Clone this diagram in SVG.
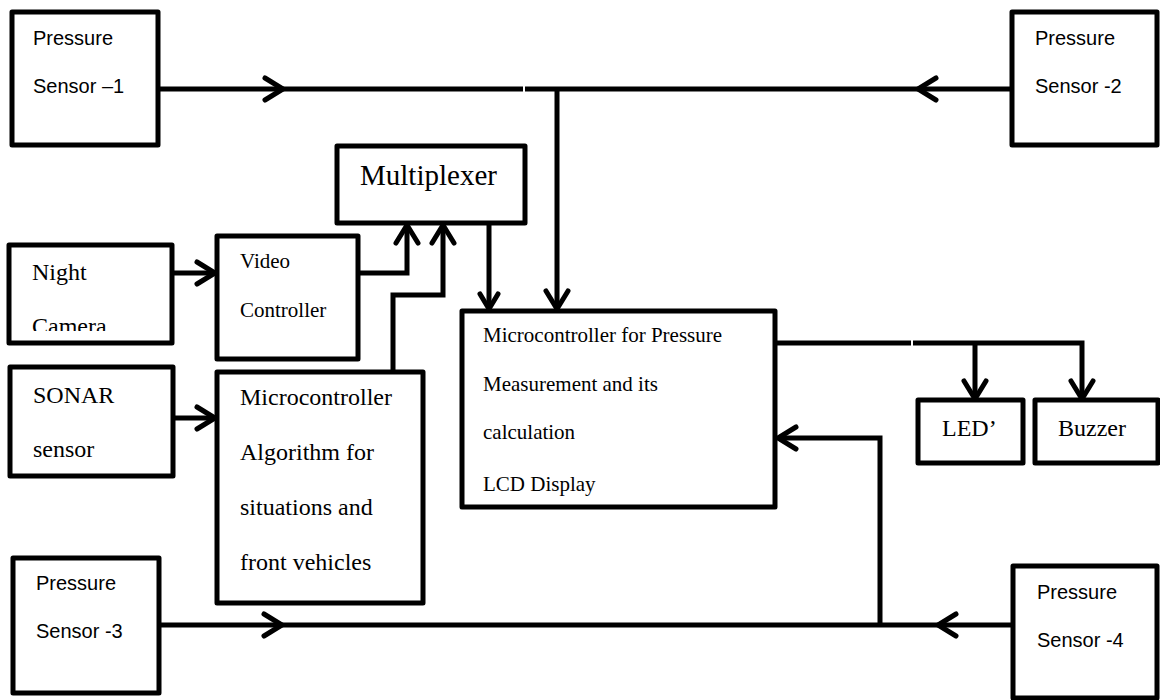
<svg xmlns="http://www.w3.org/2000/svg" width="1160" height="700" viewBox="0 0 1160 700">
<style>
.box{fill:#fff;stroke:#000;stroke-width:5;stroke-linejoin:round}
.ln{fill:none;stroke:#000;stroke-width:5}
.ah{fill:none;stroke:#000;stroke-width:5;stroke-linecap:round;stroke-linejoin:miter}
.sans{font-family:"Liberation Sans",Arial,sans-serif;font-size:20px;fill:#000}
.serif{font-family:"Liberation Serif","Times New Roman",serif;fill:#000}
</style>
<defs>
<clipPath id="camclip"><rect x="10" y="240" width="160" height="91"/></clipPath>
</defs>
<rect width="1160" height="700" fill="#fff"/>
<g id="connectors">
<path class="ln" d="M158 89 H523 M525 89 H1012"/>
<path class="ah" d="M265 78 L283 89 L265 100"/>
<path class="ah" d="M936 78 L918 89 L936 100"/>
<path class="ln" d="M557 89 V309"/>
<path class="ah" d="M546 291 L557 309 L568 291"/>
<path class="ln" d="M489 223 V309"/>
<path class="ah" d="M480 294 L489 309 L498 294"/>
<path class="ln" d="M172 273 H215"/>
<path class="ah" d="M197 262 L215 273 L197 284"/>
<path class="ln" d="M172 418 H215"/>
<path class="ah" d="M197 407 L215 418 L197 429"/>
<path class="ln" d="M358 273 H407 V225"/>
<path class="ah" d="M396 243 L407 225 L418 243"/>
<path class="ln" d="M393 370 V295 H443 V225"/>
<path class="ah" d="M432 243 L443 225 L454 243"/>
<path class="ln" d="M775 343 H911 M913 343 H1082 V398 M975 343 V398"/>
<path class="ah" d="M964 381 L975 399 L986 381"/>
<path class="ah" d="M1071 381 L1082 399 L1093 381"/>
<path class="ln" d="M159 625 H1013"/>
<path class="ah" d="M264 614 L282 625 L264 636"/>
<path class="ah" d="M956 614 L938 625 L956 636"/>
<path class="ln" d="M880 625 V438 H778"/>
<path class="ah" d="M796 427 L778 438 L796 449"/>
</g>
<g id="sensor1">
<rect class="box" x="12" y="12" width="146" height="133"/>
<text class="sans" x="33" y="45">Pressure</text>
<text class="sans" x="33" y="93">Sensor –1</text>
</g>
<g id="sensor2">
<rect class="box" x="1012" y="12" width="145" height="133"/>
<text class="sans" x="1035" y="45">Pressure</text>
<text class="sans" x="1035" y="93">Sensor -2</text>
</g>
<g id="multiplexer">
<rect class="box" x="337" y="146" width="188" height="77"/>
<text class="serif" x="360" y="185" font-size="29">Multiplexer</text>
</g>
<g id="nightcamera">
<rect class="box" x="9" y="245" width="163" height="98"/>
<text class="serif" x="32" y="280" font-size="24">Night</text>
<text class="serif" x="32" y="334" font-size="24" clip-path="url(#camclip)">Camera</text>
</g>
<g id="videocontroller">
<rect class="box" x="217" y="236" width="141" height="123"/>
<text class="serif" x="240" y="268" font-size="21">Video</text>
<text class="serif" x="240" y="317" font-size="21">Controller</text>
</g>
<g id="sonar">
<rect class="box" x="10" y="367" width="163" height="109"/>
<text class="serif" x="33" y="403" font-size="24">SONAR</text>
<text class="serif" x="33" y="457" font-size="24">sensor</text>
</g>
<g id="algorithm">
<rect class="box" x="217" y="372" width="206" height="231"/>
<text class="serif" x="240" y="405" font-size="24">Microcontroller</text>
<text class="serif" x="240" y="460" font-size="24">Algorithm for</text>
<text class="serif" x="240" y="515" font-size="24">situations and</text>
<text class="serif" x="240" y="570" font-size="24">front vehicles</text>
</g>
<g id="mainmcu">
<rect class="box" x="462" y="311" width="313" height="196"/>
<text class="serif" x="483" y="342" font-size="21">Microcontroller for Pressure</text>
<text class="serif" x="483" y="391" font-size="21">Measurement and its</text>
<text class="serif" x="483" y="439" font-size="21">calculation</text>
<text class="serif" x="483" y="491" font-size="21">LCD Display</text>
</g>
<g id="led">
<rect class="box" x="918" y="400" width="105" height="63"/>
<text class="serif" x="942" y="436" font-size="24">LED’</text>
</g>
<g id="buzzer">
<rect class="box" x="1035" y="400" width="123" height="63"/>
<text class="serif" x="1058" y="436" font-size="24">Buzzer</text>
</g>
<g id="sensor3">
<rect class="box" x="13" y="558" width="146" height="135"/>
<text class="sans" x="36" y="590">Pressure</text>
<text class="sans" x="36" y="638">Sensor -3</text>
</g>
<g id="sensor4">
<rect class="box" x="1013" y="566" width="144" height="132"/>
<text class="sans" x="1037" y="599">Pressure</text>
<text class="sans" x="1037" y="647">Sensor -4</text>
</g>
</svg>
